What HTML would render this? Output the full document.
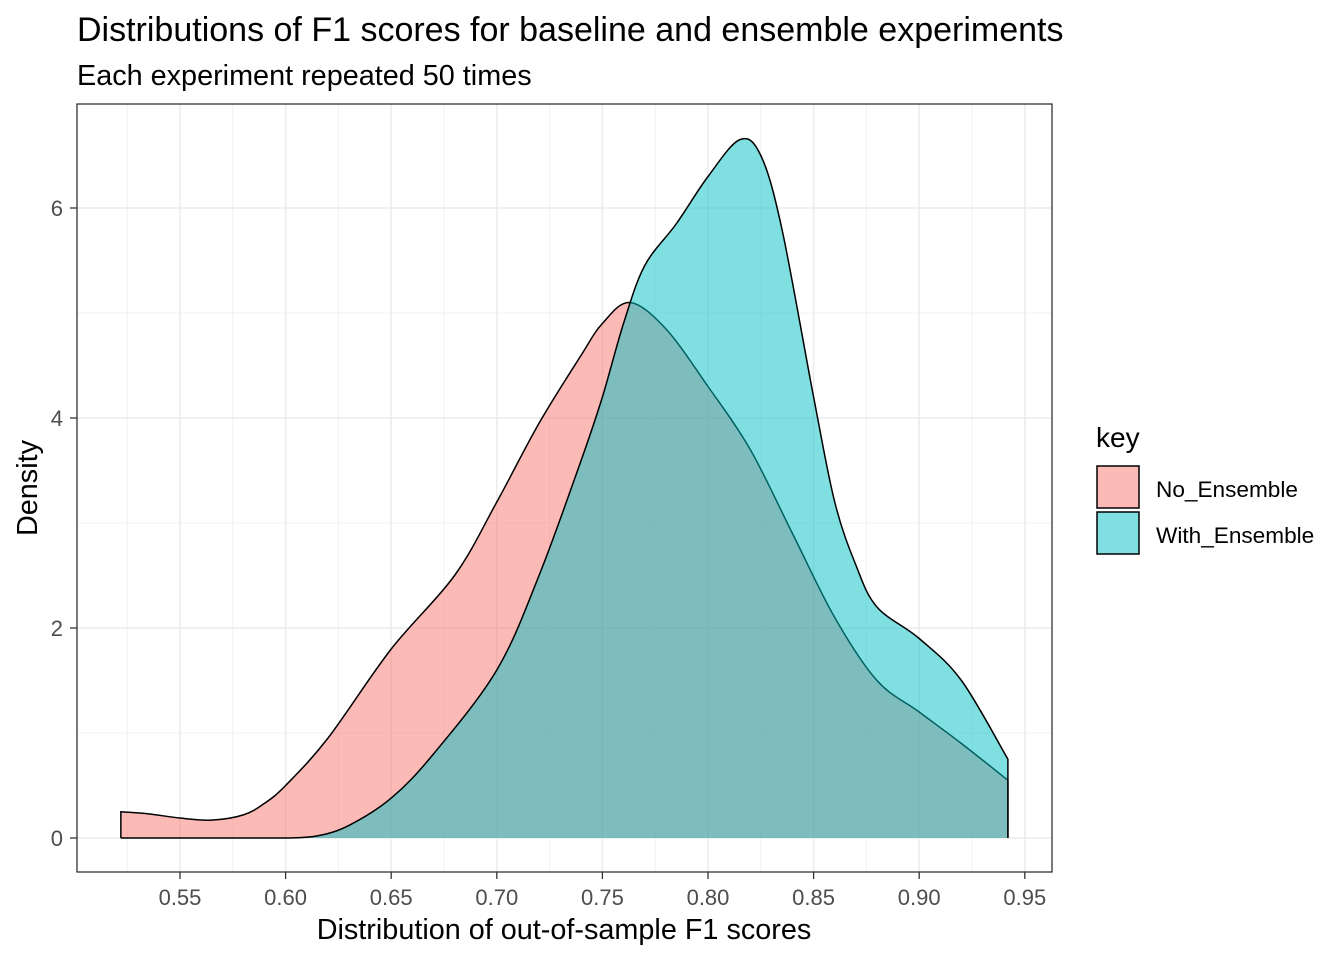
<!DOCTYPE html>
<html><head><meta charset="utf-8"><style>
body{margin:0;background:#fff;font-family:"Liberation Sans",sans-serif}
</style></head><body>
<svg width="1344" height="960" xmlns="http://www.w3.org/2000/svg" font-family="Liberation Sans, sans-serif">
<text x="77" y="41" font-size="34" fill="#000">Distributions of F1 scores for baseline and ensemble experiments</text>
<text x="77" y="85" font-size="28.8" fill="#000">Each experiment repeated 50 times</text>
<g id="grid"></g>
<g id="marks"></g>
<rect x="77" y="104" width="975" height="768" fill="none" stroke="#333" stroke-width="1.3"/>
<g id="axes"></g>
<text x="564" y="939" font-size="28.8" text-anchor="middle">Distribution of out-of-sample F1 scores</text>
<text transform="translate(37,488) rotate(-90)" font-size="28.8" text-anchor="middle">Density</text>
<g>
<text x="1096" y="447" font-size="28">key</text>
<rect x="1097" y="466" width="42" height="42" fill="#F8766D" fill-opacity="0.5" stroke="#000" stroke-width="1.5"/>
<text x="1156" y="497" font-size="22.6">No_Ensemble</text>
<rect x="1097" y="512" width="42" height="42" fill="#00BFC4" fill-opacity="0.5" stroke="#000" stroke-width="1.5"/>
<text x="1156" y="543" font-size="22.6">With_Ensemble</text>
</g>
</svg>
<script>
const xTicks=[0.55,0.60,0.65,0.70,0.75,0.80,0.85,0.90,0.95];
const xTickLabels=["0.55","0.60","0.65","0.70","0.75","0.80","0.85","0.90","0.95"];
const yTicks=[0,2,4,6];
const yTickLabels=["0","2","4","6"];
const noEnsX=[0.522,0.535,0.55,0.565,0.58,0.59,0.60,0.62,0.65,0.68,0.70,0.72,0.74,0.75,0.763,0.78,0.80,0.82,0.84,0.86,0.88,0.90,0.92,0.942];
const noEnsY=[0.25,0.23,0.19,0.17,0.22,0.33,0.5,0.95,1.8,2.5,3.2,3.95,4.6,4.9,5.1,4.85,4.3,3.7,2.9,2.1,1.5,1.2,0.9,0.55];
const withEnsX=[0.522,0.58,0.60,0.615,0.63,0.65,0.67,0.70,0.72,0.74,0.75,0.76,0.77,0.785,0.80,0.815,0.825,0.835,0.85,0.86,0.87,0.88,0.90,0.92,0.942];
const withEnsY=[0,0,0,0.02,0.12,0.38,0.8,1.6,2.5,3.6,4.2,4.9,5.45,5.85,6.3,6.65,6.5,5.8,4.2,3.2,2.6,2.2,1.9,1.5,0.75];
const X=v=>180+(v-0.55)*2112, Y=v=>838-v*105;
const NS="http://www.w3.org/2000/svg";
function mk(t,a,p){const e=document.createElementNS(NS,t);for(const k in a)e.setAttribute(k,a[k]);p.appendChild(e);return e;}
const grid=document.getElementById('grid'),axes=document.getElementById('axes'),marks=document.getElementById('marks');
for(let v=0.525;v<0.97;v+=0.05){const l=mk('line',{x1:X(v),x2:X(v),y1:104,y2:872,stroke:'#F2F2F2','stroke-width':1},grid);

}
[1,3,5].forEach(v=>{const l=mk('line',{x1:77,x2:1052,y1:Y(v),y2:Y(v),stroke:'#F2F2F2','stroke-width':1},grid);

});
xTicks.forEach((v,i)=>{const l=mk('line',{x1:X(v),x2:X(v),y1:104,y2:872,stroke:'#EBEBEB','stroke-width':1.5},grid);


const t=mk('line',{x1:X(v),x2:X(v),y1:872,y2:879,stroke:'#333','stroke-width':1.3},axes);


const tx=mk('text',{x:X(v),y:905,'font-size':22,fill:'#4D4D4D','text-anchor':'middle'},axes);tx.textContent=xTickLabels[i];

});
yTicks.forEach((v,i)=>{const l=mk('line',{x1:77,x2:1052,y1:Y(v),y2:Y(v),stroke:'#EBEBEB','stroke-width':1.5},grid);


const t=mk('line',{x1:70,x2:77,y1:Y(v),y2:Y(v),stroke:'#333','stroke-width':1.3},axes);


const tx=mk('text',{x:63,y:Y(v)+8,'font-size':22,fill:'#4D4D4D','text-anchor':'end'},axes);tx.textContent=yTickLabels[i];

});
function spline(xs,ys){const p=xs.map((x,i)=>[X(x),Y(ys[i])]);let d='M'+p[0][0]+','+p[0][1];
for(let i=0;i<p.length-1;i++){const p0=p[Math.max(0,i-1)],p1=p[i],p2=p[i+1],p3=p[Math.min(p.length-1,i+2)];
let c1y=p1[1]+(p2[1]-p0[1])/6,c2y=p2[1]-(p3[1]-p1[1])/6;c1y=Math.min(c1y,838);c2y=Math.min(c2y,838);
d+=` C${p1[0]+(p2[0]-p0[0])/6},${c1y} ${p2[0]-(p3[0]-p1[0])/6},${c2y} ${p2[0]},${p2[1]}`;}return d;}
function area(xs,ys,col,name){const top=spline(xs,ys);
const f=mk('path',{d:top+` L${X(xs[xs.length-1])},838 L${X(xs[0])},838 Z`,fill:col,'fill-opacity':0.5,stroke:'none'},marks);


const l=mk('path',{d:`M${X(xs[0])},838 L`+top.slice(1)+` L${X(xs[xs.length-1])},838`,fill:'none',stroke:'#000','stroke-width':1.5},marks);

}
area(noEnsX,noEnsY,'#F8766D','no-ensemble');
area(withEnsX,withEnsY,'#00BFC4','with-ensemble');
</script>
</body></html>
